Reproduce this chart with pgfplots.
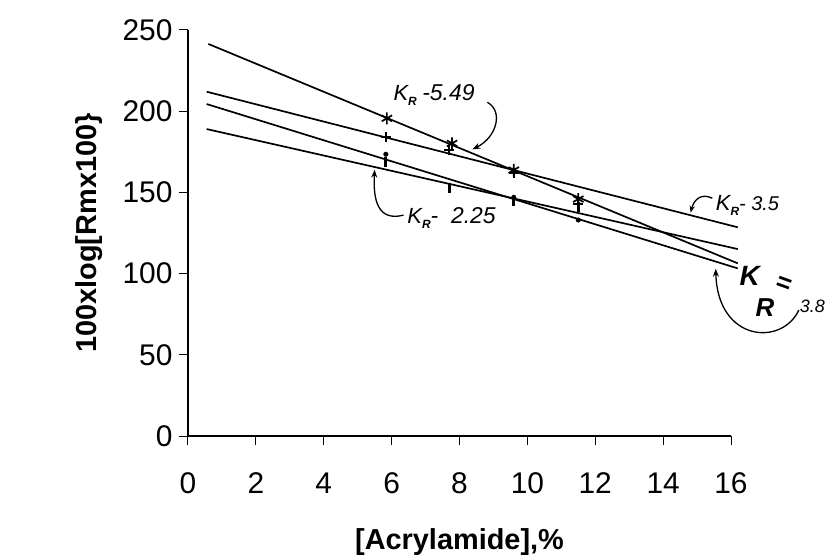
\documentclass[border=0pt]{standalone}
\usepackage{pgfplots}
\pgfplotsset{compat=1.18}
\usepackage{fontspec}
\setmainfont{Liberation Sans}
\usetikzlibrary{arrows.meta}
\newcommand{\KR}{{\fontsize{22}{24}\selectfont\itshape K}\raisebox{-5bp}{\fontsize{12}{13}\selectfont\bfseries\itshape R}}
\begin{document}
\begin{tikzpicture}
\path[use as bounding box] (-188bp,-119bp) rectangle (638bp,436bp);
\begin{axis}[
  at={(0,0)}, anchor=south west,
  scale only axis, width=543bp, height=406bp,
  xmin=0, xmax=16, ymin=0, ymax=250,
  axis lines=left, axis line style={-, line width=1.3bp},
  xtick={0,2,...,16}, ytick={0,50,...,250},
  tick align=outside, major tick length=9bp,
  tick style={line width=1bp, black},
  /pgf/number format/assume math mode=true,
  tick label style={font=\fontsize{30}{34}\selectfont},
  xticklabel style={yshift=-24bp},
  yticklabel style={xshift=-3bp},
  xlabel={[Acrylamide],\%},
  ylabel={100xlog[Rmx100\}},
  xlabel style={at={(axis description cs:0.5,-0.262)}, anchor=center, font=\fontsize{29}{32}\selectfont\bfseries},
  ylabel style={at={(axis description cs:-0.182,0.5)}, anchor=center, font=\fontsize{29}{32}\selectfont\bfseries},
  clip=false,
]
% fitted lines
\addplot[black, line width=1.7bp] coordinates {(0.6,241.4) (16.2,106.3)};
\addplot[black, line width=1.7bp] coordinates {(0.55,212) (16.2,128.5)};
\addplot[black, line width=1.7bp] coordinates {(0.55,204.4) (16.2,103.2)};
\addplot[black, line width=1.7bp] coordinates {(0.55,189) (16.2,115.1)};
% data points
\addplot[only marks, mark=asterisk, mark size=6bp, line width=1.7bp] coordinates {(5.86,195.6) (7.78,180.2) (9.6,163.8) (11.5,145.9)};
\addplot[only marks, mark=+, mark size=5bp, line width=1.7bp] coordinates {(5.83,184) (7.7,176) (9.6,162) (11.5,143)};
\addplot[only marks, mark=*, mark size=2.3bp] coordinates {(5.83,173.5) (9.6,147) (11.5,133)};
\addplot[only marks, mark=|, mark size=5bp, line width=2.8bp] coordinates {(5.83,169) (7.7,153) (9.6,145) (11.5,141)};
% annotations
\node[anchor=west, inner sep=0] at (axis cs:6.05,210) {\KR\ \ {\fontsize{23}{25}\selectfont\itshape -5.49}};
\draw[line width=1.3bp, -{Stealth[length=8bp]}] (axis cs:8.82,205.5) .. controls (axis cs:9.3,200) and (axis cs:9.1,184) .. (axis cs:8.38,176.5);
\node[anchor=west, inner sep=0] at (axis cs:6.46,134.2) {\KR{\fontsize{23}{25}\selectfont\itshape -\ \ 2.25}};
\draw[line width=1.3bp, -{Stealth[length=8bp]}] (axis cs:6.35,136) .. controls (axis cs:5.6,132) and (axis cs:5.45,145) .. (axis cs:5.5,164);
\node[anchor=west, inner sep=0] at (axis cs:15.55,142.2) {\KR{\fontsize{20}{22}\selectfont\itshape -\ 3.5}};
\draw[line width=1.3bp, -{Stealth[length=7bp]}] (axis cs:15.45,146.4) .. controls (axis cs:15.1,150) and (axis cs:14.9,145) .. (axis cs:14.81,137.5);
\node at (axis cs:16.55,98.5) {\fontsize{28}{30}\selectfont\bfseries\itshape K};
\node at (axis cs:17.0,79) {\fontsize{26}{28}\selectfont\bfseries\itshape R};
\node[rotate=-20] at (axis cs:17.55,93) {\fontsize{26}{28}\selectfont\bfseries =};
\node at (axis cs:18.4,80) {\fontsize{18}{20}\selectfont\itshape 3.8};
\draw[line width=1.3bp, -{Stealth[length=8bp]}] (axis cs:18.0,77.6) .. controls (axis cs:17.5,55) and (axis cs:15.6,58) .. (axis cs:15.55,103);
\end{axis}
\end{tikzpicture}
\end{document}
